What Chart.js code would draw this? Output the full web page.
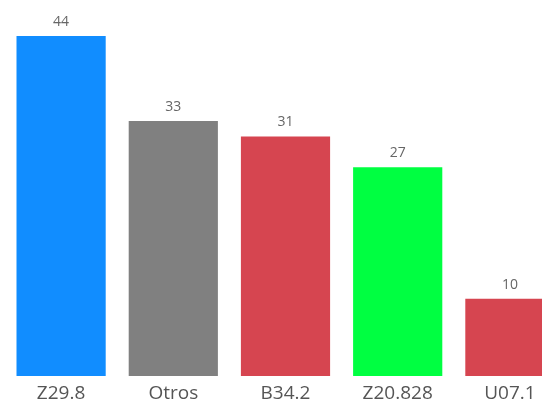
<!DOCTYPE html>
<html>
<head>
<meta charset="utf-8">
<script src="https://cdn.jsdelivr.net/npm/chart.js@4"></script>
<style>
  html, body { margin: 0; padding: 0; background: #fff; overflow: hidden; }
  #wrap { width: 566px; height: 405px; }
</style>
</head>
<body>
<div id="wrap"><canvas id="grafico"></canvas></div>
<script>
const categorias = ["Z29.8", "Otros", "B34.2", "Z20.828", "U07.1"];
const valores = [44, 33, 31, 27, 10];
const cores = ["#118DFF", "#808080", "#D64550", "#00FF41", "#D64550"];

// rótulos de valor acima das barras
const rotulos = {
  id: "rotulos",
  afterDatasetsDraw(chart) {
    const ctx = chart.ctx;
    ctx.save();
    ctx.font = "14px 'Open Sans'";
    ctx.fillStyle = "#666666";
    ctx.textAlign = "center";
    ctx.textBaseline = "bottom";
    chart.getDatasetMeta(0).data.forEach((bar, i) => {
      ctx.fillText(valores[i], bar.x, bar.y - 7);
    });
    ctx.restore();
  }
};

new Chart(document.getElementById("grafico"), {
  type: "bar",
  data: {
    labels: categorias,
    datasets: [{
      data: valores,
      backgroundColor: cores,
      borderWidth: 0,
      categoryPercentage: 1,
      barPercentage: 0.795
    }]
  },
  options: {
    responsive: true,
    maintainAspectRatio: false,
    animation: false,
    layout: { padding: { left: 5, right: 0, top: 36, bottom: 2 } },
    plugins: {
      legend: { display: false },
      tooltip: { enabled: false }
    },
    scales: {
      x: {
        grid: { display: false },
        border: { display: false },
        ticks: {
          color: "#555555",
          padding: 0,
          font: { family: "'Open Sans'", size: 19, lineHeight: 1.0 }
        }
      },
      y: {
        display: false,
        min: 0,
        max: 44
      }
    }
  },
  plugins: [rotulos]
});
</script>
</body>
</html>
